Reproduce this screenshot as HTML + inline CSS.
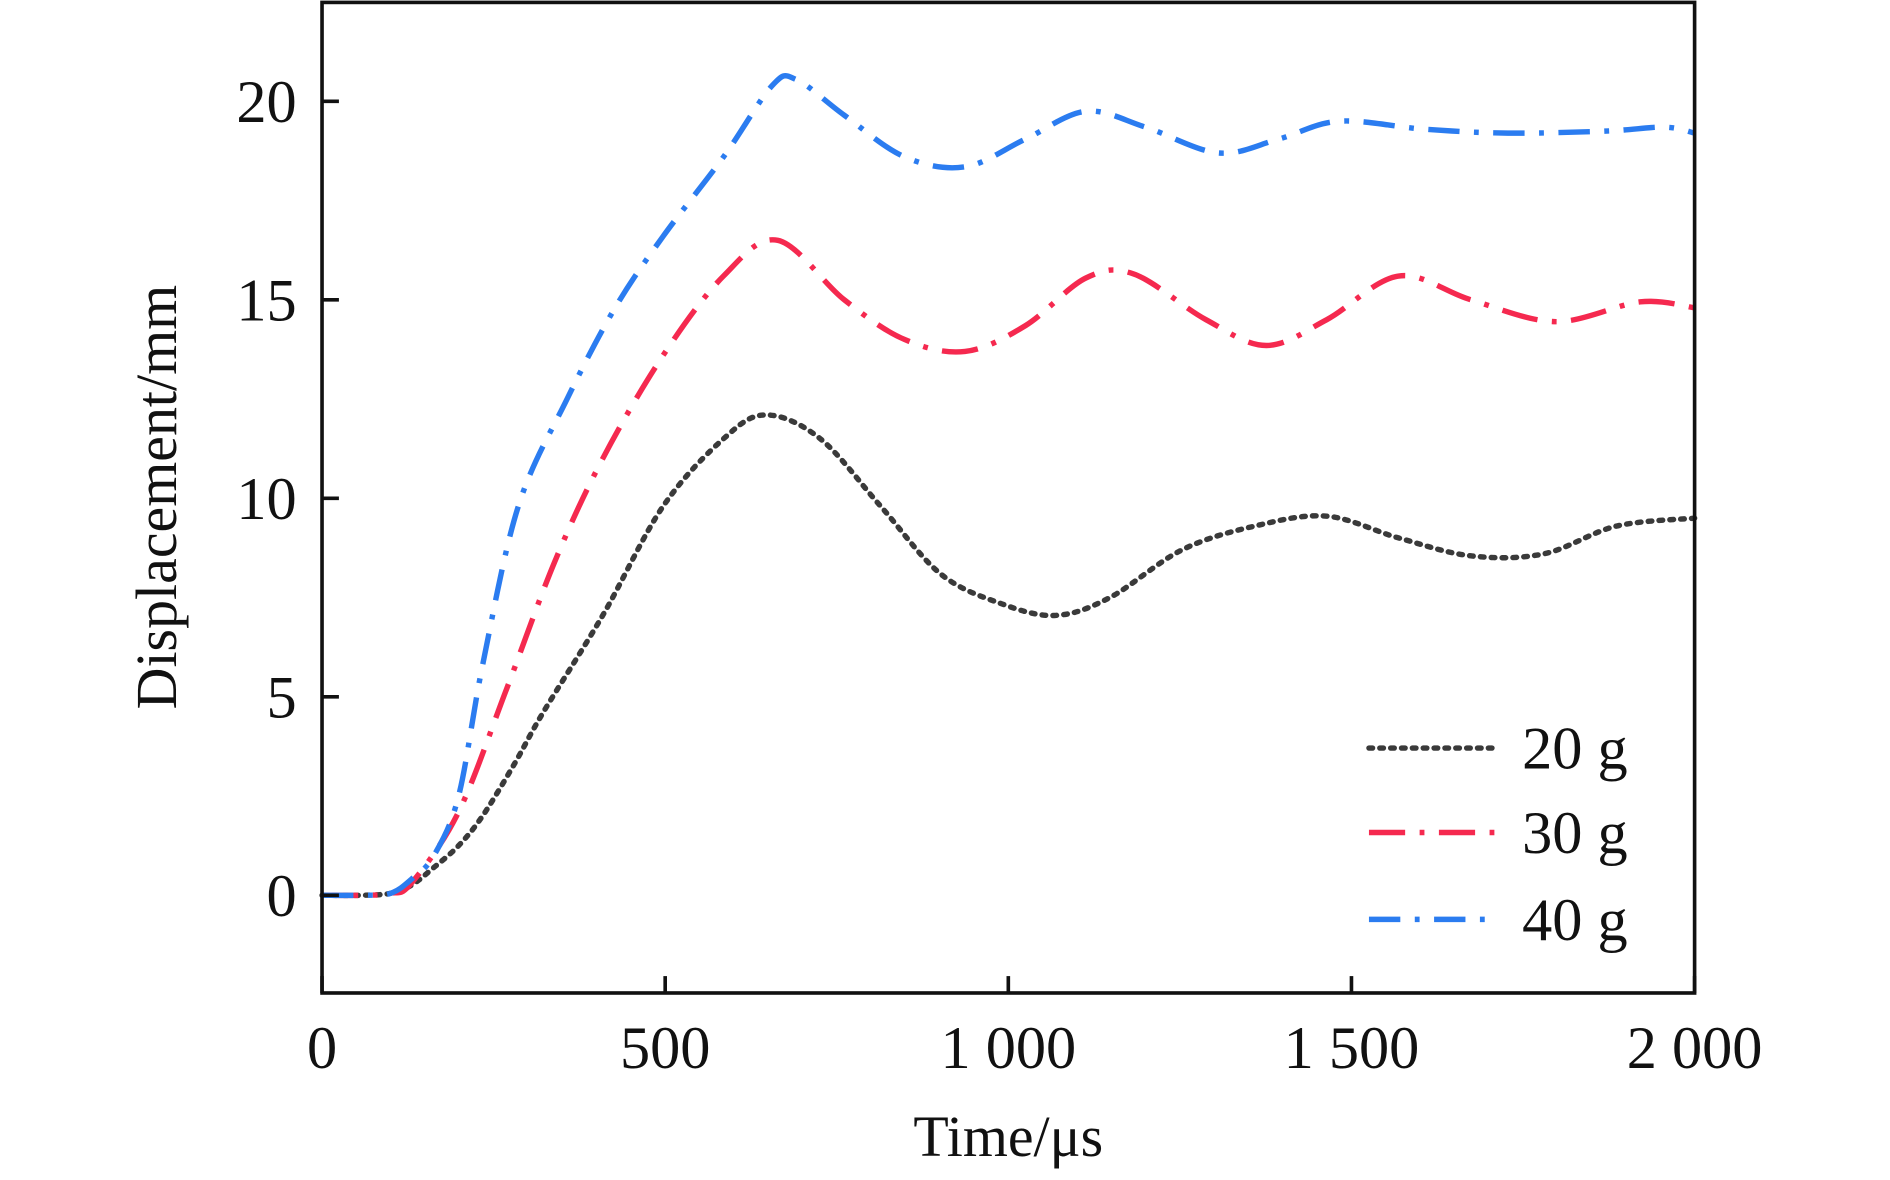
<!DOCTYPE html>
<html><head><meta charset="utf-8"><style>
html,body{margin:0;padding:0;background:#fff;}
svg{display:block;}
text{font-family:"Liberation Serif",serif;fill:#111;}
</style></head><body>
<svg id="chart" width="1890" height="1180" viewBox="0 0 1567 978" preserveAspectRatio="none" xmlns="http://www.w3.org/2000/svg">
<g id="plot"></g>
</svg>
<script>
const xTicks=[0,500,1000,1500,2000];
const xTickLabels=["0","500","1 000","1 500","2 000"];
const yTicks=[0,5,10,15,20];
const yTickLabels=["0","5","10","15","20"];
const seriesNames=["20 g","30 g","40 g"];
const t20=[0,60,100,130,163,199,234,280,322,409,497,585,647,726,814,901,989,1069,1148,1253,1359,1464,1569,1674,1780,1886,2000];
const v20=[0,0,0.05,0.25,0.7,1.25,2.0,3.3,4.6,7.05,9.8,11.5,12.1,11.5,9.8,8.1,7.35,7.05,7.5,8.7,9.3,9.55,9.0,8.55,8.6,9.3,9.5];
const t30=[0,60,100,130,199,269,339,409,497,585,664,761,849,937,1025,1113,1183,1288,1376,1464,1569,1674,1798,1921,2000];
const v30=[0,0,0.05,0.3,2.1,5.2,8.4,11.0,13.6,15.6,16.5,15.0,14.0,13.7,14.35,15.55,15.65,14.5,13.85,14.5,15.6,15.0,14.45,14.95,14.8];
const t40=[0,60,100,130,163,199,234,286,357,427,497,585,656,691,761,849,937,1025,1113,1200,1306,1394,1482,1605,1728,1869,1956,2000];
const v40=[0,0,0.05,0.4,1.0,2.5,5.8,9.8,12.5,14.8,16.6,18.6,20.4,20.55,19.65,18.6,18.35,19.05,19.75,19.35,18.7,19.05,19.5,19.3,19.2,19.25,19.35,19.2];

const L=267,R=1405,T=2,B=823;
function xs(v){return L+(v-0)/2000*(R-L);}
function ys(v){return 742-(v)*(742-84)/20;}
const NS="http://www.w3.org/2000/svg";
const g=document.getElementById('plot');
function mk(tag,attrs){const e=document.createElementNS(NS,tag);for(const k in attrs)e.setAttribute(k,attrs[k]);g.appendChild(e);return e;}
function path(ts,vs){
  const p=ts.map((t,i)=>[xs(t),ys(vs[i])]);
  let d="M"+p[0][0]+","+p[0][1];
  for(let i=0;i<p.length-1;i++){
    const p0=p[i-1]||p[i],p1=p[i],p2=p[i+1],p3=p[i+2]||p2;
    const c1=[p1[0]+(p2[0]-p0[0])/6,p1[1]+(p2[1]-p0[1])/6];
    const c2=[p2[0]-(p3[0]-p1[0])/6,p2[1]-(p3[1]-p1[1])/6];
    d+=" C"+c1+" "+c2+" "+p2;
  }
  return d;
}
const styles=[
 {c:"#3a3a3a",dash:"3,6",cap:"round"},
 {c:"#f5294f",dash:"30,12,4,12",cap:"butt"},
 {c:"#2b7cf0",dash:"26,12,4,12",cap:"butt"}];
const data=[[t20,v20],[t30,v30],[t40,v40]];
const names=['series-20g','series-30g','series-40g'];
data.forEach((s,i)=>{
  const e=mk('path',{d:path(s[0],s[1]),fill:'none',stroke:styles[i].c,'stroke-width':4.5,'stroke-dasharray':styles[i].dash,'stroke-linecap':styles[i].cap});
  
  
});
const fr=mk('rect',{x:L,y:T,width:R-L,height:B-T,fill:'none',stroke:'#111','stroke-width':3});


xTicks.forEach((v,i)=>{
  const tk=mk('line',{x1:xs(v),x2:xs(v),y1:B,y2:B-14,stroke:'#111','stroke-width':3});
  
  
  const tx=mk('text',{x:xs(v),y:885,'text-anchor':'middle','font-size':50});
  tx.textContent=xTickLabels[i];
  
  
});
yTicks.forEach((v,i)=>{
  const tk=mk('line',{x1:L,x2:L+14,y1:ys(v),y2:ys(v),stroke:'#111','stroke-width':3});
  
  
  const tx=mk('text',{x:246,y:ys(v)+17,'text-anchor':'end','font-size':50});
  tx.textContent=yTickLabels[i];
  
  
});
const xl=mk('text',{x:836,y:958,'text-anchor':'middle','font-size':48});
xl.textContent="Time/μs";


const yl=mk('text',{x:0,y:0,'text-anchor':'middle','font-size':48,transform:'translate(146,412) rotate(-90)'});
yl.textContent="Displacement/mm";


const ly=[620,690,762];
seriesNames.forEach((n,i)=>{
  const ln=mk('line',{x1:1135,x2:1243,y1:ly[i],y2:ly[i],stroke:styles[i].c,'stroke-width':4.5,'stroke-dasharray':styles[i].dash,'stroke-linecap':styles[i].cap});
  
  
  const tx=mk('text',{x:1262,y:ly[i]+17,'font-size':50});
  tx.textContent=n;
  
  
});
</script>
</body></html>
